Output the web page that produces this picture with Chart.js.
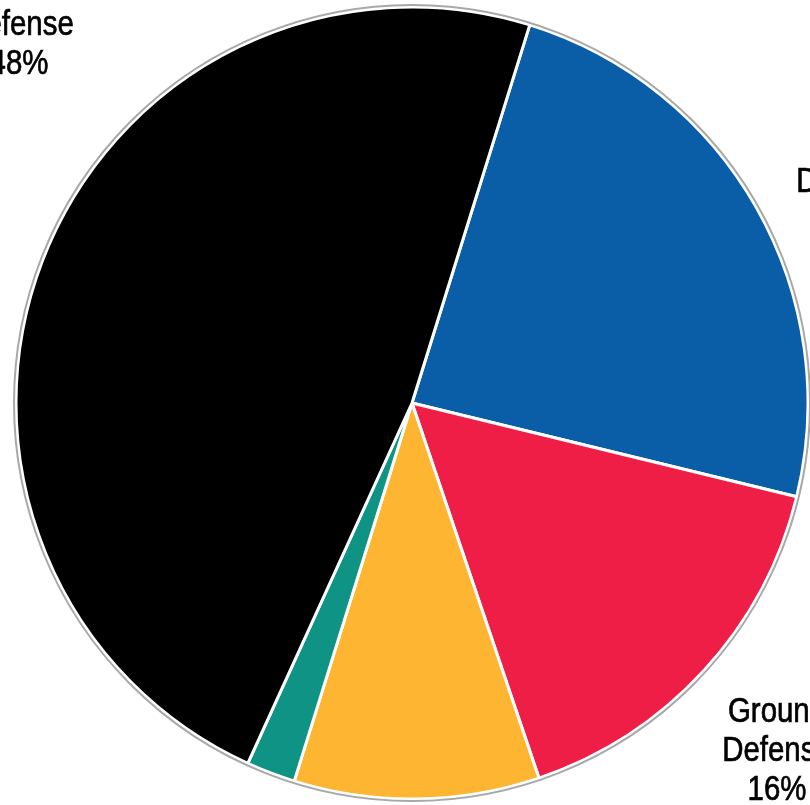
<!DOCTYPE html>
<html>
<head>
<meta charset="utf-8">
<script src="https://cdn.jsdelivr.net/npm/chart.js@4"></script>
<style>
    html, body { margin: 0; padding: 0; background: #fff; }
    #wrap { width: 810px; height: 805px; }
</style>
</head>
<body>
<div id="wrap"><canvas id="pieChart"></canvas></div>
<script>
// data, clockwise from the top black/blue edge
const categories = ['Air Defense', 'Ground Defense', 'Other', 'Support', 'Missile Defense'];
const shares = [24, 16, 10, 2, 48];
const sliceColors = ['#0a5ea8', '#ef1e47', '#fdb532', '#0e9384', '#000000'];

// label text lines and where each label sits (only these three show in the frame)
const labelLines = {
    'Missile Defense': ['Missile', 'Defense'],
    'Air Defense': ['Air', 'Defense'],
    'Ground Defense': ['Ground', 'Defense']
};
const labelSpots = {
    'Missile Defense': { x: 19, y: -4 },
    'Air Defense': { x: 851, y: 153 },
    'Ground Defense': { x: 777, y: 722 }
};

const rimPlugin = {
    id: 'rim',
    afterDatasetsDraw(chart) {
        const arc = chart.getDatasetMeta(0).data[0];
        const ctx = chart.ctx;
        ctx.save();
        ctx.beginPath();
        ctx.arc(arc.x, arc.y, arc.outerRadius + 2, 0, Math.PI * 2);
        ctx.strokeStyle = '#a8a8a8';
        ctx.lineWidth = 2;
        ctx.stroke();
        ctx.restore();
    }
};

// condensed look: no narrow face installed, so squeeze Liberation Sans
const squeeze = 0.84;

const labelPlugin = {
    id: 'sliceLabels',
    afterDraw(chart) {
        const ctx = chart.ctx;
        ctx.save();
        ctx.font = '35px "Liberation Sans", Arial, sans-serif';
        ctx.fillStyle = '#000';
        ctx.strokeStyle = '#000';
        ctx.lineWidth = 0.7;
        ctx.textAlign = 'center';
        ctx.textBaseline = 'alphabetic';
        categories.forEach(function (name, i) {
            const spot = labelSpots[name];
            if (!spot) return;
            const lines = labelLines[name].concat([shares[i] + '%']);
            lines.forEach(function (line, j) {
                ctx.save();
                ctx.translate(spot.x, spot.y + j * 39);
                ctx.scale(squeeze, 1);
                ctx.fillText(line, 0, 0);
                ctx.strokeText(line, 0, 0);
                ctx.restore();
            });
        });
        ctx.restore();
    }
};

const ctxPie = document.getElementById('pieChart').getContext('2d');
const pieChart = new Chart(ctxPie, {
    type: 'pie',
    data: {
        labels: categories,
        datasets: [{
            data: shares,
            backgroundColor: sliceColors,
            borderColor: '#ffffff',
            borderWidth: 3,
            hoverOffset: 0
        }]
    },
    options: {
        responsive: true,
        maintainAspectRatio: false,
        animation: false,
        rotation: 17.3,
        radius: 396,
        layout: { padding: { left: 14, right: 0, top: 5, bottom: 4 } },
        plugins: {
            legend: { display: false },
            tooltip: { enabled: false }
        }
    },
    plugins: [rimPlugin, labelPlugin]
});
</script>
</body>
</html>
